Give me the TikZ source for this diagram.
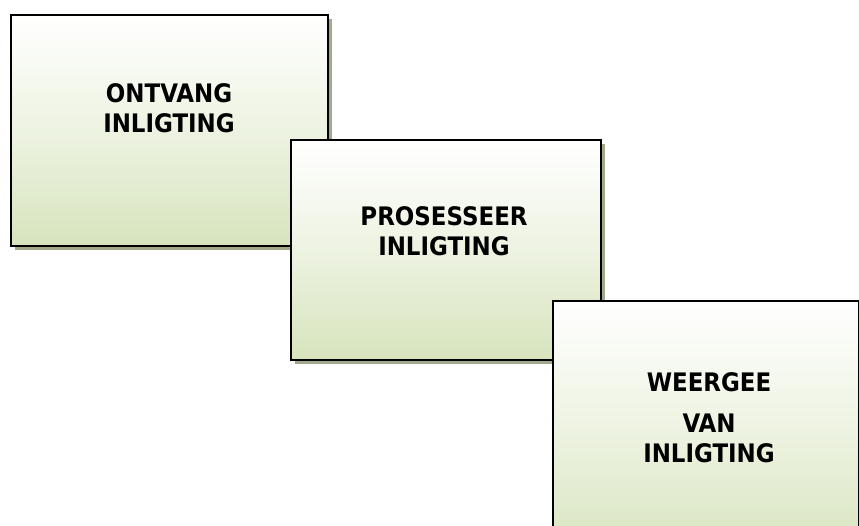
\documentclass[tikz,border=0pt]{standalone}
\usepackage{fontspec}
\setmainfont{DejaVu Sans Condensed}
\usetikzlibrary{shadows}
\definecolor{boxgreen}{HTML}{D7E4BD}
\definecolor{shadowgreen}{HTML}{A0A98C}
\begin{document}
\begin{tikzpicture}[x=1pt,y=-1pt,
  stepbox/.style={draw=black, line width=2pt, anchor=north west, inner sep=0pt,
    top color=white, bottom color=boxgreen, middle color=boxgreen!45!white,
    drop shadow={shadow xshift=4pt, shadow yshift=-4pt, fill=shadowgreen, opacity=1}},
  label/.style={anchor=north, align=center, inner sep=0pt,
    font=\fontsize{25.5}{30}\selectfont\bfseries}]
\useasboundingbox (0,0) rectangle (859,526);
\clip (0,0) rectangle (859,526);
\node[stepbox, minimum width=317pt, minimum height=231pt] (b1) at (10,14) {};
\node[label] (t1) at (169,83) {ONTVANG\\INLIGTING};
\node[stepbox, minimum width=310pt, minimum height=220pt] (b2) at (290,139) {};
\node[label] (t2) at (444,206) {PROSESSEER\\INLIGTING};
\node[stepbox, minimum width=306pt, minimum height=260pt] (b3) at (552,300) {};
\node[label] (t3) at (709,372) {WEERGEE\\[11pt]VAN\\INLIGTING};
\end{tikzpicture}
\end{document}
